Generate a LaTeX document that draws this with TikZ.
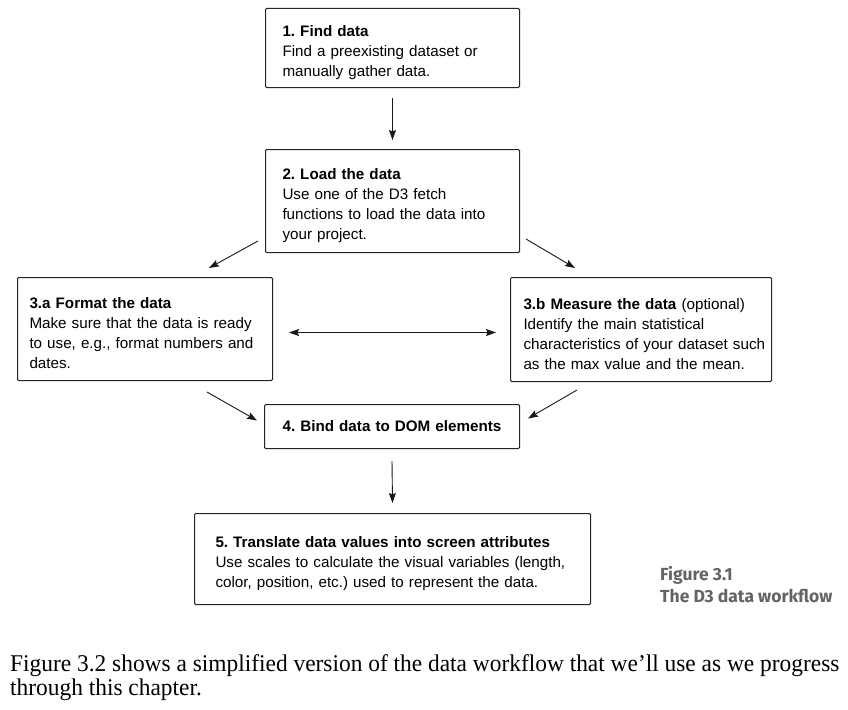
\documentclass[tikz,border=0pt]{standalone}
\usepackage{fontspec}
\setmainfont{Liberation Sans}
\newfontfamily\capfont{Fira Sans}
\newfontfamily\bodyserif[FakeStretch=0.975]{Liberation Serif}
\usetikzlibrary{arrows.meta,calc}
\definecolor{capgray}{RGB}{100,100,100}
\newcommand{\oneline}[1]{\mbox{#1}}
\frenchspacing
\begin{document}
\begin{tikzpicture}[x=1pt,y=-1pt,
  box/.style={draw=black!85, line width=1pt, rounded corners=1.2pt, anchor=north west,
    inner ysep=0pt, align=left, font=\fontsize{15.2}{20}\selectfont},
  lowered/.style={execute at begin node={\rule{0pt}{20pt}}},
  arr/.style={draw=black!90, line width=0.9pt, -{Stealth[length=10pt,width=7pt,inset=1.5pt]}},
  dblarr/.style={draw=black!90, line width=0.9pt, {Stealth[length=10pt,width=7pt,inset=1.5pt]}-{Stealth[length=10pt,width=7pt,inset=1.5pt]}},
  capstyle/.style={anchor=base west, inner sep=0pt, text=capgray, font=\capfont\bfseries\fontsize{17.5}{20}\selectfont},
]
\useasboundingbox[fill=white] (0,0) rectangle (848,709);

\node[box, lowered, inner xsep=17pt, text width=220pt, minimum height=79pt] (b1) at (265,8)
  {\oneline{\textbf{1. Find data}}\\\oneline{Find a preexisting dataset or}\\\oneline{manually gather data.}};
\node[box, lowered, inner xsep=17pt, text width=220pt, minimum height=103pt] (b2) at (265,149)
  {\oneline{\textbf{2. Load the data}}\\\oneline{Use one of the D3 fetch}\\\oneline{functions to load the data into}\\\oneline{your project.}};
\node[box, lowered, inner xsep=12pt, text width=231pt, minimum height=103pt] (b3a) at (17,277)
  {\oneline{\textbf{3.a Format the data}}\\\oneline{Make sure that the data is ready}\\\oneline{to use, e.g., format numbers and}\\\oneline{dates.}};
\node[box, lowered, inner xsep=13pt, text width=235pt, minimum height=104pt] (b3b) at (510,277)
  {\oneline{\textbf{3.b Measure the data} (optional)}\\\oneline{Identify the main statistical}\\\oneline{characteristics of your dataset such}\\\oneline{as the max value and the mean.}};
\node[box, inner xsep=6pt, text width=243pt, minimum height=44pt, align=center] (b4) at (264,404)
  {\textbf{4. Bind data to DOM elements}};
\node[box, lowered, inner xsep=21pt, text width=354pt, minimum height=91pt] (b5) at (194,513)
  {\oneline{\textbf{5. Translate data values into screen attributes}}\\\oneline{Use scales to calculate the visual variables (length,}\\\oneline{color, position, etc.) used to represent the data.}};

\draw[arr] ($(b1.south)+(0,10)$) -- ($(b2.north)+(0,-9)$);
\draw[arr] ($(b2.south west)+(-7,-12)$) -- ($(b3a.north east)+(-64,-9)$);
\draw[arr] ($(b2.south east)+(6,-14)$) -- ($(b3b.north west)+(65,-9)$);
\draw[dblarr] ($(b3a.east)+(16,3.5)$) -- ($(b3b.west)+(-14,3)$);
\draw[arr] ($(b3a.south east)+(-66,11)$) -- ($(b4.west)+(-7,-6)$);
\draw[arr] ($(b3b.south west)+(67,8)$) -- ($(b4.east)+(8,-8)$);
\draw[arr] ($(b4.south)+(0,12)$) -- ($(b5.north)+(0,-10)$);

\node[capstyle] (cap1) at (660,580) {Figure 3.1};
\node[capstyle] (cap2) at (660,602) {The D3 data workflow};

\node[anchor=base west, inner sep=0pt, align=left, font=\bodyserif\fontsize{24}{24}\selectfont] (para) at (10,695)
  {\oneline{Figure 3.2 shows a simplified version of the data workflow that we’ll use as we progress}\\\oneline{through this chapter.}};
\end{tikzpicture}
\end{document}
